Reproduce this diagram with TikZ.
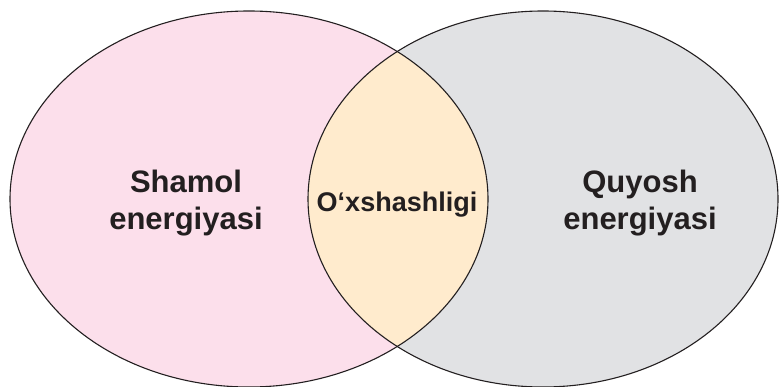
\documentclass[tikz,border=0pt]{standalone}
\usepackage{fontspec}
\setmainfont{Liberation Sans}
\usetikzlibrary{positioning}
\definecolor{windpink}{HTML}{FCDFEB}
\definecolor{sungrey}{HTML}{E1E2E4}
\definecolor{commonbeige}{HTML}{FFEBCD}
\definecolor{inkdark}{HTML}{231F20}

\begin{document}
\begin{tikzpicture}[
        x=1pt, y=1pt,
        outline/.style={draw=inkdark, line width=1.1pt},
        label/.style={text=inkdark, font=\bfseries\fontsize{31}{37}\selectfont,
                      align=center, inner sep=0pt},
        midlabel/.style={text=inkdark, font=\bfseries\fontsize{27}{32}\selectfont,
                         inner sep=0pt}
    ]
        \useasboundingbox (0,0) rectangle (779,386);
        \coordinate (wind) at (249,187);
        \coordinate (sun) at (543,187);
        % the two sets
        \fill[windpink] (wind) ellipse [x radius=239, y radius=188];
        \fill[sungrey] (sun) ellipse [x radius=235, y radius=188];
        % the overlap
        \begin{scope}
            \clip (wind) ellipse [x radius=239, y radius=188];
            \fill[commonbeige] (sun) ellipse [x radius=235, y radius=188];
        \end{scope}
        \draw[outline] (wind) ellipse [x radius=239, y radius=188];
        \draw[outline] (sun) ellipse [x radius=235, y radius=188];
        \node[label] (windtext) at (186,182.5) {Shamol\\energiyasi};
        \node[label] (suntext) at (640,182.5) {Quyosh\\energiyasi};
        \node[midlabel, anchor=base] (commontext) at (397,174) {O‘xshashligi};
    \end{tikzpicture}
\end{document}
